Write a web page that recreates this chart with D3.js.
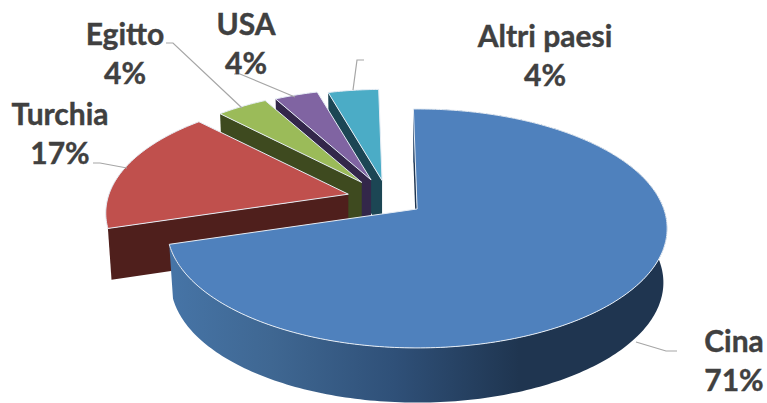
<!DOCTYPE html>
<html>
<head>
<meta charset="utf-8">
<style>
  html, body { margin: 0; padding: 0; background: #fff; overflow: hidden; }
  svg { display: block; }
</style>
<script src="https://cdn.jsdelivr.net/npm/d3@7"></script>
</head>
<body>
<div id="wrapper"></div>
<script>
const w = 767
const h = 403

// values, labels show them rounded
const categories = ['Cina', 'Turchia', 'Egitto', 'USA', 'Altri paesi']
const values = [70.6, 17.4, 4.2, 3.6, 4.2]

const topColors = ['#4f81bd', '#c0504d', '#9bbb59', '#8064a2', '#4bacc6']
const sideColors = ['#1f3550', '#4f1f1c', '#3e4a1f', '#33274a', '#1c4654']

// how far each slice is pulled out of the centre, how much it shrinks, how thick it is
const explode = [36, 41, 44, 44, 40]
const shrink = [1, 0.97, 0.92, 0.91, 0.91]
const depths = [54, 51, 51, 51, 51]

// label centres and leader lines, [x, y]
const labelPos = [[734, 342], [60, 115], [125, 35], [246, 25], [545, 37]]
const leaders = [
  [[636, 342], [666, 351], [677, 351]],
  [[127, 168], [100, 163], [93, 163]],
  [[242, 108], [173, 43], [166, 43]],
  [[295, 97], [240, 74], [234, 74]],
  [[353, 90], [357, 60], [364, 60]]
]

const cx = 388
const cy = 199
const rx = 246.7
const ry = 116.3
const persp = 0.163  // foreshortening of the tilted disc
const squash = 0.47
const rad = Math.PI / 180

const svg = d3.select('#wrapper').append('svg')
  .attr('width', w)
  .attr('height', h)

const defs = svg.append('defs')
const grad = defs.append('linearGradient')
  .attr('id', 'wallBlue')
  .attr('gradientUnits', 'userSpaceOnUse')
  .attr('x1', 172).attr('x2', 668).attr('y1', 0).attr('y2', 0)
grad.selectAll('stop')
  .data([[0, '#4674a6'], [0.2, '#3f6792'], [0.45, '#2f5078'], [0.7, '#1f3550'], [1, '#1f3550']])
  .enter().append('stop')
  .attr('offset', d => d[0])
  .attr('stop-color', d => d[1])

const pie = d3.pie().sort(null).startAngle(-1 * rad).endAngle(359 * rad)
const slices = pie(values).map((s, i) => {
  const mid = (s.startAngle + s.endAngle) / 2
  return {
    i: i,
    a0: s.startAngle,
    a1: s.endAngle,
    scale: shrink[i],
    depth: depths[i],
    ax: cx + explode[i] * Math.sin(mid),
    ay: cy - explode[i] * Math.cos(mid) * squash
  }
})

// point on the rim of a slice, lower = true for the bottom of the disc
function rim(s, a, lower) {
  const u = Math.sin(a)
  const v = -Math.cos(a)
  const d = 1 - persp * v
  const kx = s.scale * (lower ? 0.985 : 1)
  const ky = s.scale * (lower ? 1.005 : 1)
  return [s.ax + kx * rx * u / d, s.ay + ky * ry * v / d + (lower ? s.depth : 0)]
}

function arcPoints(s, lower) {
  const n = Math.ceil((s.a1 - s.a0) / rad)
  return d3.range(n + 1).map(j => rim(s, s.a0 + (s.a1 - s.a0) * j / n, lower))
}

const line = d3.line()

// back slices first, the big one on top
const order = slices.slice().reverse()
const groups = svg.selectAll('.slice')
  .data(order)
  .enter().append('g')
  .attr('class', 'slice')

// cut face below the starting edge
groups.append('path')
  .attr('d', s => line([
    [s.ax, s.ay],
    rim(s, s.a0, false),
    rim(s, s.a0, true),
    [s.ax, s.ay + s.depth]
  ]) + 'Z')
  .style('fill', s => sideColors[s.i])

// outer wall, only the big slice shows one
groups.filter(s => s.i === 0).append('path')
  .attr('d', s => line(arcPoints(s, false).concat(arcPoints(s, true).reverse())) + 'Z')
  .style('fill', 'url(#wallBlue)')

// top face
groups.append('path')
  .attr('d', s => line([[s.ax, s.ay]].concat(arcPoints(s, false))) + 'Z')
  .style('fill', s => topColors[s.i])
  .style('stroke', '#e6edf5')
  .style('stroke-width', 1)
  .style('stroke-linejoin', 'round')

// leader lines
svg.selectAll('.leader')
  .data(leaders)
  .enter().append('path')
  .attr('class', 'leader')
  .attr('d', d => line(d))
  .style('fill', 'none')
  .style('stroke', '#a6a6a6')
  .style('stroke-width', 1.2)

// labels
const labels = svg.selectAll('.label')
  .data(categories)
  .enter().append('text')
  .attr('class', 'label')
  .attr('text-anchor', 'middle')
  .style('font-family', 'Lato, sans-serif')
  .style('font-weight', '700')
  .style('font-size', '30px')
  .style('fill', '#404040')
  .style('stroke', '#404040')
  .style('stroke-width', 0.4)

labels.append('tspan')
  .attr('x', (d, i) => labelPos[i][0])
  .attr('y', (d, i) => labelPos[i][1] + 10)
  .text(d => d)

labels.append('tspan')
  .attr('x', (d, i) => labelPos[i][0])
  .attr('y', (d, i) => labelPos[i][1] + 49)
  .text((d, i) => Math.round(values[i]) + '%')
</script>
</body>
</html>
